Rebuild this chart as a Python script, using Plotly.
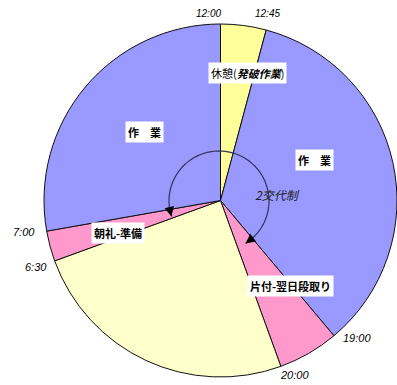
import math
import plotly.graph_objects as go

# Daily schedule as pie slices (durations in minutes, clockwise from 12:00)
segments = ["休憩(発破作業)", "作業(午後)", "片付-翌日段取り", "休み", "朝礼-準備", "作業(午前)"]
minutes = [45, 375, 60, 270, 30, 300]
colors = ["#FFFF99", "#9999FF", "#FF99CC", "#FFFFCC", "#FF99CC", "#9999FF"]

# Time labels at the slice boundaries
time_labels = ["12:00", "12:45", "19:00", "20:00", "6:30", "7:00"]

W, H = 397, 385
CX, CY, R = 220.5, 200.5, 176.5


def px(x):
    return x / W


def py(y):
    return 1 - y / H


fig = go.Figure(go.Pie(
    labels=segments,
    values=minutes,
    sort=False,
    direction="clockwise",
    rotation=0,
    textinfo="none",
    hoverinfo="label+value",
    marker=dict(colors=colors, line=dict(color="#111111", width=1)),
    domain=dict(x=[px(CX - R), min(1, px(CX + R))], y=[py(CY + R), py(CY - R)]),
    showlegend=False,
))

annotations = []

# Slice captions in white boxes
box_font = dict(family="Noto Sans CJK JP", size=11, color="black")
captions = [
    ("休憩(<b><i>発破作業</i></b>)", 247, 73),
    ("<b>作　業</b>", 144, 132),
    ("<b>作　業</b>", 314, 160),
    ("<b>朝礼-準備</b>", 118, 233),
    ("<b>片付-翌日段取り</b>", 290, 286),
]
for text, x, y in captions:
    annotations.append(dict(
        text=text, x=px(x), y=py(y), xref="paper", yref="paper",
        xanchor="center", yanchor="middle",
        showarrow=False, bgcolor="white", borderpad=2, font=box_font,
    ))

annotations.append(dict(
    text="<i>2交代制</i>", x=px(277), y=py(195), xref="paper", yref="paper",
    xanchor="center", yanchor="middle",
    showarrow=False, font=dict(family="Noto Sans CJK JP", size=12, color="#222222"),
))

# Clock times at the boundaries
time_pos = [(208, 13, 10), (267, 13, 10), (357, 338, 11), (294, 375, 11), (36, 267, 11), (24, 232, 11)]
for label, (x, y, s) in zip(time_labels, time_pos):
    annotations.append(dict(
        text=f"<i>{label}</i>", x=px(x), y=py(y), xref="paper", yref="paper",
        xanchor="center", yanchor="middle",
        showarrow=False, font=dict(family="Liberation Sans", size=s, color="black"),
    ))

# Circular double arrow around the center for the two-shift rotation
AR = 50
acx, acy = 219, 201
a0, a1 = 148, 252  # degrees clockwise from top; arc runs from a1 through the top to a0
pts = []
n = 80
span = (a0 + 360) - a1
for i in range(n + 1):
    t = math.radians(a1 + span * i / n)
    pts.append((acx + AR * math.sin(t), acy - AR * math.cos(t)))
path = "M " + " L ".join(f"{px(x):.5f},{py(y):.5f}" for x, y in pts)
shapes = [dict(type="path", path=path, xref="paper", yref="paper",
               line=dict(color="#333355", width=1.2))]

# Arrowheads at both ends, pointing down along the arc
for ang, sign in ((a1, -1), (a0, 1)):
    t = math.radians(ang)
    tipx, tipy = acx + AR * math.sin(t), acy - AR * math.cos(t)
    t2 = math.radians(ang - sign * 10)
    tx, ty = acx + AR * math.sin(t2), acy - AR * math.cos(t2)
    annotations.append(dict(
        x=px(tipx), y=py(tipy), xref="paper", yref="paper",
        ax=tx - tipx, ay=ty - tipy, axref="pixel", ayref="pixel",
        showarrow=True, arrowhead=2, arrowsize=1.6, arrowwidth=1.2,
        arrowcolor="black", text="",
    ))

fig.update_layout(
    width=W, height=H,
    margin=dict(l=0, r=0, t=0, b=0),
    paper_bgcolor="white", plot_bgcolor="white",
    annotations=annotations, shapes=shapes,
)

fig.write_html("out.html")
